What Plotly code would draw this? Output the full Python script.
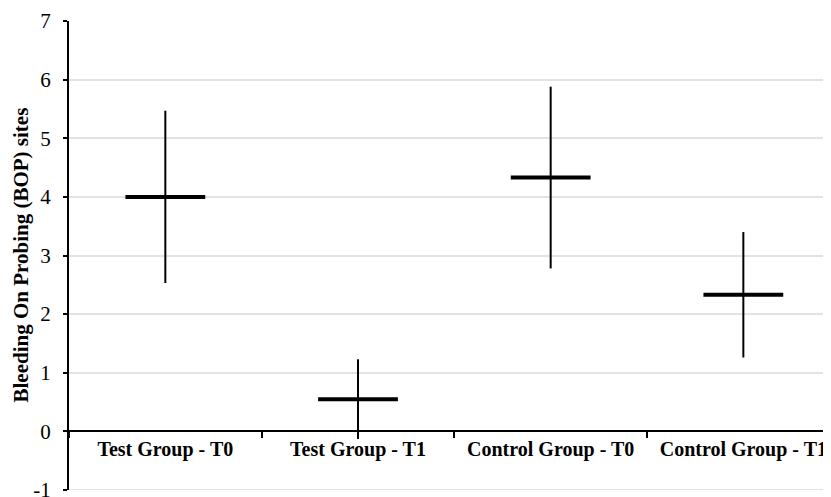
import plotly.graph_objects as go

categories = ["Test Group - T0", "Test Group - T1", "Control Group - T0", "Control Group - T1"]
means = [4.00, 0.55, 4.33, 2.33]
sds = [1.47, 0.68, 1.55, 1.07]
y_title = "Bleeding On Probing (BOP) sites"
y_ticks = [-1, 0, 1, 2, 3, 4, 5, 6, 7]

fig = go.Figure()
fig.add_trace(go.Scatter(
    x=categories, y=means, mode="markers",
    marker=dict(symbol="line-ew", size=57, color="black",
                line=dict(width=4, color="black")),
    error_y=dict(type="data", array=sds, visible=True, width=0,
                 thickness=2, color="black"),
    showlegend=False, hoverinfo="skip",
))

font_family = "Liberation Serif, Times New Roman, serif"
W, H = 823, 489
L, R, T, B = 61, 0, 13, 7
PW = W - L - R
fig.update_layout(
    width=W, height=H,
    margin=dict(l=L, r=R, t=T, b=B, autoexpand=False),
    paper_bgcolor="white", plot_bgcolor="white",
    font=dict(family=font_family, color="black"),
    xaxis=dict(
        type="category", range=[-0.5, 3.455],
        anchor="free", position=0.125, automargin=False,
        showline=True, linecolor="black", linewidth=2,
        ticks="outside", tickson="boundaries", ticklen=6, tickwidth=2, tickcolor="black",
        showgrid=False, zeroline=False,
        tickfont=dict(family=font_family, size=20, color="black", weight="bold"),
    ),
    yaxis=dict(
        range=[-1, 7], tickmode="array", tickvals=y_ticks, ticktext=[str(v) for v in y_ticks],
        automargin=False, ticklabeloverflow="allow",
        showline=True, linecolor="black", linewidth=2,
        ticks="outside", ticklen=4, tickwidth=2, tickcolor="black",
        ticklabelstandoff=8,
        showgrid=True, gridcolor="#e3e3e3", gridwidth=1.5,
        zeroline=False,
        tickfont=dict(family=font_family, size=21, color="black"),
    ),
    shapes=[dict(
        type="line", xref="paper", yref="y", x0=0, x1=1, y0=y_ticks[0], y1=y_ticks[0],
        line=dict(color="#e3e3e3", width=2), layer="below",
    )],
    annotations=[dict(
        text=y_title, textangle=-90, showarrow=False,
        xref="paper", yref="paper", x=(12 - L) / PW, y=0.5,
        xanchor="center", yanchor="middle",
        font=dict(family=font_family, size=21, color="black", weight="bold"),
    )],
)

fig.write_html("out.html")
